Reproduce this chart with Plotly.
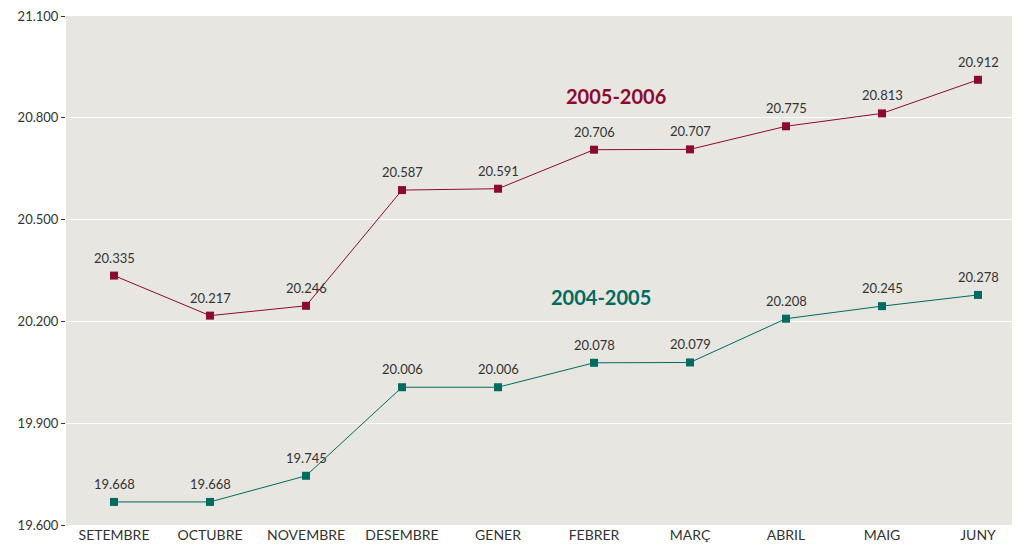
import plotly.graph_objects as go

months = ["SETEMBRE", "OCTUBRE", "NOVEMBRE", "DESEMBRE", "GENER", "FEBRER", "MARÇ", "ABRIL", "MAIG", "JUNY"]
s2005_2006 = [20335, 20217, 20246, 20587, 20591, 20706, 20707, 20775, 20813, 20912]
s2004_2005 = [19668, 19668, 19745, 20006, 20006, 20078, 20079, 20208, 20245, 20278]
ytick_vals = [19600, 19900, 20200, 20500, 20800, 21100]

red = "#8C0A30"
teal = "#006B60"
font = "Lato"


def fmt(v):
    return f"{v:,}".replace(",", ".")


fig = go.Figure()
for vals, col in [(s2005_2006, red), (s2004_2005, teal)]:
    xs = list(range(len(months)))
    fig.add_trace(go.Scatter(
        x=xs, y=vals, mode="lines+markers",
        line=dict(color=col, width=1),
        marker=dict(symbol="square", size=8, color=col),
        showlegend=False,
    ))
    for x, v in zip(xs, vals):
        fig.add_annotation(x=x, y=v, text=fmt(v), showarrow=False, yshift=18,
                           font=dict(family=font, size=13, color="#333333"))

fig.add_annotation(x=5.23, y=20865, text="<b>2005-2006</b>", showarrow=False,
                   font=dict(family=font, size=20, color=red))
fig.add_annotation(x=5.07, y=20272, text="<b>2004-2005</b>", showarrow=False,
                   font=dict(family=font, size=20, color=teal))

fig.update_layout(
    width=1004, height=535,
    margin=dict(l=58, r=0, t=3, b=13),
    paper_bgcolor="white", plot_bgcolor="#E8E6E1",
    font=dict(family=font, size=13, color="#333333"),
)
fig.update_xaxes(range=[-0.5, 9.354], tickvals=list(range(len(months))), ticktext=months,
                 showgrid=False, zeroline=False, showline=False, ticks="",
                 ticklabeloverflow="allow",
                 tickfont=dict(family=font, size=14, color="#333333"))
fig.update_yaxes(range=[19600, 21100], tickvals=ytick_vals,
                 ticktext=[fmt(v) for v in ytick_vals],
                 showgrid=True, gridcolor="white", gridwidth=1, zeroline=False,
                 showline=False, ticks="outside", ticklen=4, tickcolor="#333333",
                 ticklabeloverflow="allow",
                 tickfont=dict(family=font, size=13, color="#333333"))

fig.write_html("out.html")
